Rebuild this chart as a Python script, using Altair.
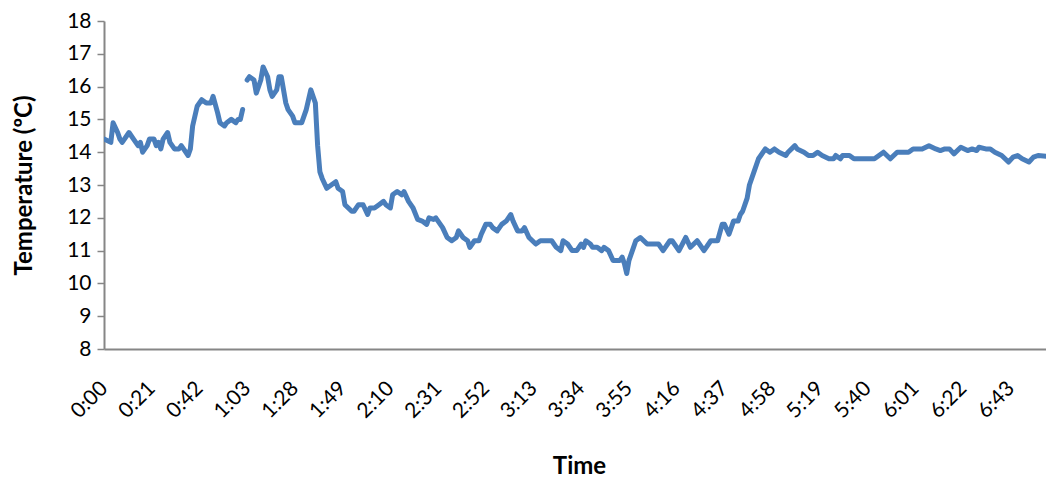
import altair as alt
import pandas as pd

# category index (one category per logged reading) and temperature readings (ºC)
minute_index = [
    0, 3, 4, 6, 7, 8, 11, 13, 15, 16, 17, 19, 20, 22, 23, 24, 25, 26, 28, 29,
    31, 33, 34, 35, 37, 38, 39, 41, 43, 45, 47, 48, 50, 51, 53, 54, 56, 58, 59, 60,
    61, 62, 63, 64, 66, 67, 69, 70, 72, 73, 74, 76, 77, 78, 80, 81, 82, 83, 84, 87,
    89, 91, 93, 94, 95, 96, 98, 100, 102, 103, 105, 106, 109, 110, 112, 114, 116, 117, 119, 121,
    123, 124, 126, 127, 129, 131, 132, 134, 136, 138, 140, 142, 143, 145, 146, 149, 151, 153, 155, 156,
    158, 160, 161, 163, 165, 166, 168, 170, 171, 173, 175, 177, 179, 180, 182, 184, 185, 187, 190, 192,
    197, 199, 201, 202, 204, 206, 208, 210, 211, 212, 214, 215, 217, 219, 220, 222, 224, 227, 228, 229,
    230, 231, 233, 234, 236, 239, 244, 246, 249, 250, 253, 256, 258, 261, 264, 267, 270, 272, 273, 275,
    277, 279, 280, 281, 283, 284, 286, 288, 289, 291, 293, 295, 297, 300, 301, 304, 305, 308, 310, 312,
    314, 316, 319, 321, 322, 324, 325, 328, 330, 339, 341, 343, 346, 349, 354, 356, 358, 360, 363, 366,
    368, 370, 372, 374, 377, 380, 382, 384, 385, 388, 390, 392, 395, 398, 400, 402, 404, 407, 409, 411,
    418,
]
temperature = [
    14.4, 14.3, 14.9, 14.6, 14.4, 14.3, 14.6, 14.4, 14.2, 14.3, 14.0, 14.2, 14.4, 14.4, 14.2, 14.3, 14.1, 14.4, 14.6, 14.3,
    14.1, 14.1, 14.2, 14.1, 13.9, 14.1, 14.8, 15.4, 15.6, 15.5, 15.5, 15.7, 15.2, 14.9, 14.8, 14.9, 15.0, 14.9, 15.0, 15.0,
    15.3, None, 16.2, 16.3, 16.2, 15.8, 16.2, 16.6, 16.3, 15.9, 15.7, 15.9, 16.3, 16.3, 15.5, 15.3, 15.2, 15.1, 14.9, 14.9,
    15.3, 15.9, 15.5, 14.2, 13.4, 13.2, 12.9, 13.0, 13.1, 12.9, 12.8, 12.4, 12.2, 12.2, 12.4, 12.4, 12.1, 12.3, 12.3, 12.4,
    12.5, 12.4, 12.3, 12.7, 12.8, 12.7, 12.8, 12.5, 12.3, 11.95, 11.9, 11.8, 12.0, 11.95, 12.0, 11.7, 11.4, 11.3, 11.4, 11.6,
    11.4, 11.3, 11.1, 11.3, 11.3, 11.5, 11.8, 11.8, 11.7, 11.6, 11.8, 11.9, 12.1, 11.9, 11.6, 11.6, 11.7, 11.4, 11.2, 11.3,
    11.3, 11.1, 11.0, 11.3, 11.2, 11.0, 11.0, 11.2, 11.1, 11.3, 11.2, 11.1, 11.1, 11.0, 11.1, 11.0, 10.7, 10.7, 10.8, 10.6,
    10.3, 10.7, 11.1, 11.3, 11.4, 11.2, 11.2, 11.0, 11.3, 11.3, 11.0, 11.4, 11.1, 11.3, 11.0, 11.3, 11.3, 11.8, 11.8, 11.5,
    11.9, 11.9, 12.1, 12.2, 12.6, 13.0, 13.4, 13.8, 13.9, 14.1, 14.0, 14.1, 14.0, 13.9, 14.0, 14.2, 14.1, 14.0, 13.9, 13.9,
    14.0, 13.9, 13.8, 13.8, 13.9, 13.8, 13.9, 13.9, 13.8, 13.8, 13.9, 14.0, 13.8, 14.0, 14.0, 14.1, 14.1, 14.1, 14.2, 14.1,
    14.05, 14.1, 14.1, 13.95, 14.15, 14.05, 14.1, 14.05, 14.15, 14.1, 14.1, 14.0, 13.9, 13.7, 13.85, 13.9, 13.8, 13.7, 13.85, 13.9,
    13.85,
]
assert len(minute_index) == len(temperature)

tick_index = [0, 21, 42, 63, 84, 105, 126, 147, 168, 189, 210, 231, 252, 273, 294, 315, 336, 357, 378, 399]
tick_labels = ["0:00", "0:21", "0:42", "1:03", "1:28", "1:49", "2:10", "2:31", "2:52", "3:13",
               "3:34", "3:55", "4:16", "4:37", "4:58", "5:19", "5:40", "6:01", "6:22", "6:43"]

# split the series where a reading is missing (gap in the line)
rows = []
seg = 0
for i, t in zip(minute_index, temperature):
    if t is None:
        seg += 1
        continue
    rows.append({"i": i, "t": t, "seg": seg})
df = pd.DataFrame(rows)

label_expr = "[{}][indexof([{}], datum.value)]".format(
    ",".join("'" + s + "'" for s in tick_labels),
    ",".join(str(v) for v in tick_index),
)

FONT = "Lato"
GRAY = "#868686"

chart = (
    alt.Chart(df)
    .mark_line(color="#4A7EBB", strokeWidth=5, strokeCap="round", strokeJoin="round", clip=True)
    .encode(
        x=alt.X(
            "i:Q",
            scale=alt.Scale(domain=[0, 414.5], nice=False, zero=False),
            axis=alt.Axis(
                values=tick_index,
                labelExpr=label_expr,
                labelAngle=-45,
                labelAlign="right",
                labelBaseline="middle",
                labelPadding=36,
                labelFont=FONT,
                labelFontSize=21,
                labelColor="black",
                labelOverlap=False,
                ticks=False,
                tickSize=0,
                grid=False,
                domainColor=GRAY,
                domainWidth=2,
                title="Time",
                titleFont=FONT,
                titleFontSize=24,
                titleFontWeight="bold",
                titleColor="black",
                titleAlign="center",
                titleBaseline="alphabetic",
                titleX=475,
                titleY=124,
            ),
        ),
        y=alt.Y(
            "t:Q",
            scale=alt.Scale(domain=[8, 18], nice=False, zero=False),
            axis=alt.Axis(
                values=list(range(8, 19)),
                grid=False,
                tickColor=GRAY,
                tickSize=7,
                tickWidth=1.5,
                domainColor=GRAY,
                domainWidth=2,
                labelFont=FONT,
                labelFontSize=21,
                labelColor="black",
                labelPadding=6,
                title="Temperature (ºC)",
                titleFont=FONT,
                titleFontSize=24,
                titleFontWeight="bold",
                titleColor="black",
                titleAngle=-90,
                titleAlign="center",
                titleBaseline="middle",
                titleX=-80,
                titleY=164,
            ),
        ),
        detail="seg:N",
    )
    .properties(
        width=942,
        height=328,
        padding={"left": 96, "top": 13, "right": 0, "bottom": 131},
        autosize="none",
    )
    .configure_view(stroke=None)
)

chart.save("out.html", embed_options={"renderer": "svg", "actions": False})
